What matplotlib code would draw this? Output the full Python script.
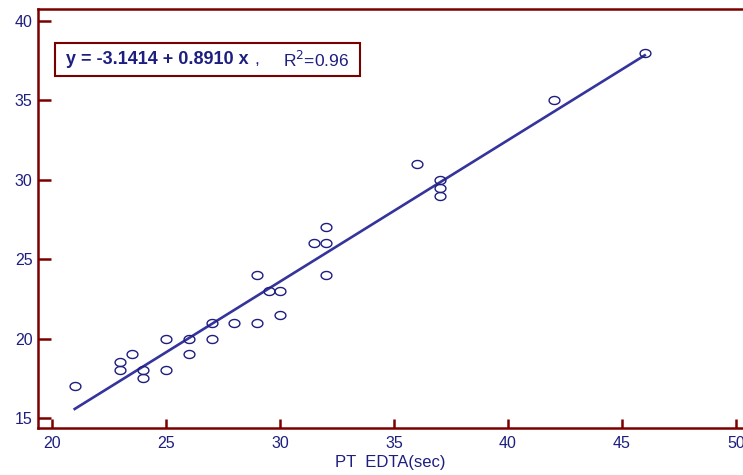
"""PT EDTA vs PT citrate scatter with linear fit."""
import matplotlib
import numpy as np

matplotlib.use("Agg")
import matplotlib.pyplot as plt
from matplotlib.path import Path
from matplotlib.patches import Rectangle

# data
pt_edta = [21, 23, 23, 23.5, 24, 24, 25, 25, 26, 26, 27, 27, 28, 29, 29,
           29.5, 30, 30, 31.5, 32, 32, 32, 36, 37, 37, 37, 42, 46]
pt_other = [17, 18.5, 18, 19, 18, 17.5, 20, 18, 20, 19, 21, 20, 21, 24, 21,
            23, 23, 21.5, 26, 26, 24, 27, 31, 30, 29.5, 29, 35, 38]
intercept = -3.1414
slope = 0.8910
r2 = 0.96
fit_range = [21, 46]
x_ticks = [20, 25, 30, 35, 40, 45, 50]
y_ticks = [15, 20, 25, 30, 35, 40]

NAVY = "#1e1e80"
LINE = "#34349c"
MAROON = "#7a0000"
plt.rcParams["font.family"] = ["Liberation Sans", "DejaVu Sans"]

fig = plt.figure(figsize=(7.43, 4.75), dpi=100)
ax = fig.add_axes([38 / 743, 47 / 475, 1 - 38 / 743, 419 / 475])

# slightly flattened circle marker
t = np.linspace(0, 2 * np.pi, 60)
oval = Path(np.column_stack([np.cos(t), 0.74 * np.sin(t)]))

fx = np.array(fit_range)
ax.plot(fx, intercept + slope * fx, color=LINE, lw=1.9, zorder=2)
ax.plot(pt_edta, pt_other, ls="none", marker=oval, ms=7.8, mfc="none",
        mec=NAVY, mew=1.0, zorder=3)

ax.set_xlim(19.39, 50.31)
ax.set_ylim(14.37, 40.76)
ax.set_xticks(x_ticks)
ax.set_yticks(y_ticks)
ax.tick_params(axis="both", direction="in", color=MAROON, width=1.8,
               labelcolor=NAVY, labelsize=11.5)
ax.tick_params(axis="x", length=6.5, pad=5.5)
ax.tick_params(axis="y", length=9.5, pad=4)
for s in ("left", "bottom", "top"):
    ax.spines[s].set_color(MAROON)
    ax.spines[s].set_linewidth(1.8)
ax.spines["right"].set_visible(False)

ax.set_xlabel("PT  EDTA(sec)", color=NAVY, fontsize=12, labelpad=3)

# equation box
ax.add_patch(Rectangle((17 / 705, 352 / 419), 305 / 705, 33 / 419,
                       transform=ax.transAxes, fill=False, ec=MAROON, lw=1.5,
                       clip_on=False))
ax.text(28 / 705, 368 / 419, f"y = {intercept:.4f} + {slope:.4f} x",
        transform=ax.transAxes, color=NAVY, fontsize=13, weight="bold",
        va="center", ha="left")
ax.text(216 / 705, 368 / 419, ",", transform=ax.transAxes, color=NAVY,
        fontsize=12.5, va="center", ha="left")
ax.text(245 / 705, 368 / 419, f"R$^2$={r2:.2f}", transform=ax.transAxes,
        color=NAVY, fontsize=12.5, va="center", ha="left")

fig.savefig("out.png", dpi=100)
